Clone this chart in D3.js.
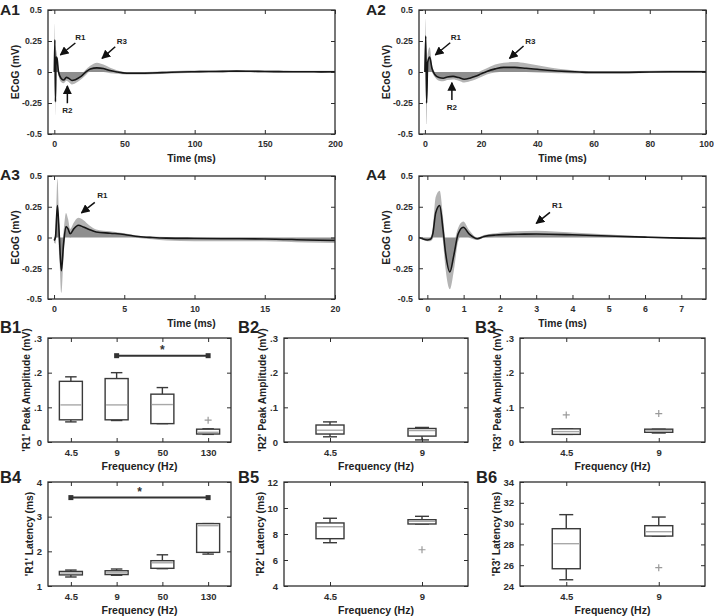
<!DOCTYPE html>
<html><head><meta charset="utf-8">
<script src="https://cdn.jsdelivr.net/npm/d3@7"></script>
<style>
body{margin:0;background:#fff}
svg{font-family:"Liberation Sans",Arial,sans-serif;font-weight:bold}
</style></head><body>
<svg id="fig" width="714" height="616"></svg>
<script>
// ---------- A panels: ECoG traces (time ms, mean, upper, lower in mV) ----------
const a1Time  = [0, 0.4, 0.8, 1.3, 1.9, 3, 4.8, 6.7, 8.6, 10.2, 12.6, 15, 18.5, 22, 25.6, 30.4, 35, 39.8, 44.6, 51.7, 60, 70, 80, 90, 100, 110, 120, 130, 140, 150, 160, 170, 180, 190, 200];
const a1Mean  = [0, 0.26, -0.24, 0.12, 0.11, 0.0, -0.05, -0.065, -0.043, -0.05, -0.068, -0.062, -0.04, -0.005, 0.025, 0.033, 0.028, 0.012, 0.0, -0.01, -0.01, -0.008, -0.004, 0, 0.002, 0.004, 0.005, 0.007, 0.006, 0.004, 0.003, 0.002, 0.002, 0.001, 0.002];
const a1Upper = [0, 0.39, -0.12, 0.18, 0.14, 0.02, -0.02, -0.035, -0.02, -0.02, -0.04, -0.035, -0.02, 0.015, 0.05, 0.075, 0.06, 0.035, 0.015, 0.0, 0.0, 0.002, 0.006, 0.01, 0.012, 0.013, 0.014, 0.016, 0.015, 0.013, 0.012, 0.011, 0.011, 0.01, 0.011];
const a1Lower = [0, 0.15, -0.35, 0.06, 0.07, -0.03, -0.08, -0.09, -0.07, -0.08, -0.1, -0.09, -0.065, -0.03, 0.005, 0.005, 0.0, -0.01, -0.015, -0.02, -0.02, -0.018, -0.014, -0.01, -0.008, -0.005, -0.004, -0.002, -0.003, -0.005, -0.006, -0.007, -0.007, -0.008, -0.007];

const a2Time  = [0, 0.3, 0.6, 1.0, 1.7, 2.5, 3.5, 5, 6.5, 8, 10, 12, 14, 16, 18, 20, 22, 25, 28, 32, 36, 40, 45, 50, 55, 60, 70, 80, 90, 100];
const a2Mean  = [0, 0.29, -0.25, 0.08, 0.12, 0.03, -0.02, -0.045, -0.05, -0.04, -0.035, -0.045, -0.058, -0.05, -0.035, -0.015, 0.005, 0.025, 0.037, 0.037, 0.03, 0.022, 0.012, 0.005, 0.0, -0.003, -0.003, 0, 0.002, 0.002];
const a2Upper = [0, 0.43, -0.1, 0.15, 0.2, 0.06, 0.0, -0.025, -0.03, -0.02, -0.015, -0.025, -0.035, -0.03, -0.015, 0.01, 0.03, 0.06, 0.075, 0.08, 0.07, 0.055, 0.035, 0.02, 0.01, 0.006, 0.006, 0.01, 0.012, 0.01];
const a2Lower = [0, 0.15, -0.42, 0.01, 0.05, 0.0, -0.04, -0.07, -0.075, -0.065, -0.06, -0.07, -0.085, -0.075, -0.06, -0.04, -0.02, -0.005, 0.005, 0.005, 0.0, -0.005, -0.008, -0.01, -0.012, -0.012, -0.012, -0.008, -0.008, -0.006];

const a3Time  = [0, 0.1, 0.24, 0.38, 0.52, 0.68, 0.85, 1.0, 1.15, 1.4, 1.73, 2.1, 2.5, 3, 4, 5, 6, 7, 8, 10, 12, 15, 18, 20];
const a3Mean  = [-0.025, 0.0, 0.26, 0.0, -0.27, -0.05, 0.09, 0.07, 0.03, 0.07, 0.1, 0.085, 0.065, 0.045, 0.035, 0.025, 0.008, 0.0, -0.005, -0.008, -0.01, -0.012, -0.02, -0.025];
const a3Upper = [-0.01, 0.05, 0.48, 0.1, -0.12, 0.05, 0.2, 0.15, 0.07, 0.12, 0.16, 0.14, 0.1, 0.065, 0.05, 0.035, 0.015, 0.008, 0.005, 0.003, 0.0, -0.002, -0.01, -0.01];
const a3Lower = [-0.04, -0.05, 0.1, -0.15, -0.45, -0.15, 0.02, 0.01, 0.0, 0.02, 0.05, 0.04, 0.035, 0.025, 0.02, 0.012, -0.005, -0.015, -0.025, -0.03, -0.03, -0.03, -0.04, -0.045];

const a4Time  = [-0.23, 0, 0.08, 0.15, 0.23, 0.34, 0.43, 0.5, 0.62, 0.73, 0.85, 0.99, 1.15, 1.38, 1.56, 1.88, 2.5, 3, 4, 5, 6, 7, 7.68];
const a4Mean  = [0, -0.02, -0.015, 0.03, 0.2, 0.26, 0.07, -0.12, -0.28, -0.145, 0.03, 0.083, 0.03, -0.01, 0.008, 0.02, 0.027, 0.028, 0.022, 0.012, 0.003, -0.005, -0.008];
const a4Upper = [0, -0.01, 0.0, 0.08, 0.33, 0.38, 0.17, -0.03, -0.15, -0.05, 0.08, 0.13, 0.06, 0.0, 0.02, 0.035, 0.05, 0.055, 0.04, 0.025, 0.01, 0.0, -0.003];
const a4Lower = [0, -0.03, -0.03, -0.01, 0.08, 0.14, -0.03, -0.25, -0.42, -0.27, -0.03, 0.035, 0.0, -0.02, -0.003, 0.005, 0.008, 0.01, 0.008, 0.003, -0.003, -0.01, -0.013];

const ecogTicks = [-0.5, -0.25, 0, 0.25, 0.5];
const ecogTickLabels = ["-0.5", "-0.25", "0", "0.25", "0.5"];
const a1XTicks = [0, 50, 100, 150, 200];
const a2XTicks = [0, 20, 40, 60, 80, 100];
const a3XTicks = [0, 5, 10, 15, 20];
const a4XTicks = [0, 1, 2, 3, 4, 5, 6, 7];

// annotations: [label, labelT, labelV, tailT, tailV, headT, headV]
const a1Notes = [["R1", 18.5, 0.277, 15, 0.234, 4.3, 0.137], ["R3", 48.2, 0.252, 43.4, 0.204, 34, 0.11], ["R2", 9.3, -0.31, 9.3, -0.252, 9.3, -0.113]];
const a2Notes = [["R1", 11, 0.28, 9, 0.236, 3.7, 0.137], ["R3", 37.5, 0.252, 35.1, 0.21, 30.1, 0.11], ["R2", 9.6, -0.285, 9.6, -0.226, 9.6, -0.086]];
const a3Notes = [["R1", 3.44, 0.34, 2.9, 0.285, 1.95, 0.2]];
const a4Notes = [["R1", 3.58, 0.26, 3.38, 0.204, 3.0, 0.115]];

// ---------- B panels: box plots ----------
const b12Freq = ["4.5", "9", "50", "130"];
const bFreq2 = ["4.5", "9"];
const ampTicks = [0, 0.1, 0.2, 0.3];
const ampTickLabels = ["0", ".1", ".2", ".3"];

const b1Low  = [0.058, 0.062, 0.053, 0.022];
const b1Q1   = [0.064, 0.064, 0.053, 0.023];
const b1Med  = [0.107, 0.107, 0.108, 0.028];
const b1Q3   = [0.175, 0.183, 0.138, 0.037];
const b1High = [0.188, 0.200, 0.157, 0.038];
const b1Out  = [[], [], [], [0.063]];

const b2Low  = [0.015, 0.006];
const b2Q1   = [0.023, 0.017];
const b2Med  = [0.034, 0.033];
const b2Q3   = [0.049, 0.039];
const b2High = [0.058, 0.042];
const b2Out  = [[], []];

const b3Low  = [0.022, 0.026];
const b3Q1   = [0.022, 0.028];
const b3Med  = [0.030, 0.032];
const b3Q3   = [0.038, 0.037];
const b3High = [0.038, 0.037];
const b3Out  = [[0.078], [0.082]];

const b4Low  = [1.26, 1.31, 1.50, 1.92];
const b4Q1   = [1.32, 1.33, 1.51, 1.97];
const b4Med  = [1.375, 1.38, 1.67, 2.74];
const b4Q3   = [1.42, 1.44, 1.73, 2.80];
const b4High = [1.46, 1.49, 1.90, 2.80];
const b4Out  = [[], [], [], []];
const b4Ticks = [1, 2, 3, 4];

const b5Low  = [7.33, 8.77];
const b5Q1   = [7.64, 8.77];
const b5Med  = [8.56, 8.98];
const b5Q3   = [8.85, 9.10];
const b5High = [9.21, 9.36];
const b5Out  = [[], [6.79]];
const b5Ticks = [4, 6, 8, 10, 12];

const b6Low  = [24.6, 28.8];
const b6Q1   = [25.66, 28.8];
const b6Med  = [28.07, 29.22];
const b6Q3   = [29.51, 29.8];
const b6High = [30.86, 30.63];
const b6Out  = [[], [25.76]];
const b6Ticks = [24, 26, 28, 30, 32, 34];

const b1Sig = ["9", "130", 0.249];
const b4Sig = ["4.5", "130", 3.55];

// ---------- drawing ----------
const svg = d3.select("#fig");
const INK = "#2e2e2e";
const defs = svg.append("defs");
defs.append("marker").attr("id", "arr").attr("viewBox", "0 0 10 10").attr("refX", 9).attr("refY", 5)
  .attr("markerWidth", 6).attr("markerHeight", 6).attr("orient", "auto-start-reverse")
  .append("path").attr("d", "M0,0 L10,5 L0,10 z").attr("fill", "#111");

let clipN = 0;
function frame(g, x, y, xTicks, yTicks, yFmt, xFmt) {
  const L = x.range()[0], R = x.range()[x.range().length - 1];
  const B = y.range()[0], T = y.range()[1];
  const style = sel => {
    sel.select(".domain").remove();
    sel.selectAll(".tick line").attr("stroke", INK).attr("stroke-width", 1);
  };
  const bottomAx = d3.axisBottom(x).tickValues(xTicks).tickSize(-4).tickPadding(7);
  if (xFmt) bottomAx.tickFormat(xFmt);
  g.append("g").attr("transform", `translate(0,${B})`).call(bottomAx).call(style)
    .selectAll("text").attr("fill", INK).style("font-size", g.attr("data-tfs") + "px").style("font-weight", "bold").style("font-family", "Liberation Sans, Arial, sans-serif");
  g.append("g").attr("transform", `translate(0,${T})`).call(d3.axisTop(x).tickValues(xTicks).tickSize(-4).tickFormat("")).call(style);
  g.append("g").attr("transform", `translate(${L},0)`).call(d3.axisLeft(y).tickValues(yTicks).tickSize(-4).tickPadding(6).tickFormat(yFmt)).call(style)
    .selectAll("text").attr("fill", INK).style("font-size", g.attr("data-tfs") + "px").style("font-weight", "bold").style("font-family", "Liberation Sans, Arial, sans-serif");
  g.append("g").attr("transform", `translate(${R},0)`).call(d3.axisRight(y).tickValues(yTicks).tickSize(-4).tickFormat("")).call(style);
  g.append("rect").attr("x", L).attr("y", T).attr("width", R - L).attr("height", B - T)
    .attr("fill", "none").attr("stroke", INK).attr("stroke-width", 1.3);
}

function tracePanel(c) {
  const x = d3.scaleLinear().domain(c.xDomain).range([c.left, c.right]);
  const y = d3.scaleLinear().domain([-0.5, 0.5]).range([c.bottom, c.top]);
  const g = svg.append("g").attr("data-tfs", 8.8);
  const id = "clip" + (clipN++);
  defs.append("clipPath").attr("id", id).append("rect")
    .attr("x", c.left).attr("y", c.top).attr("width", c.right - c.left).attr("height", c.bottom - c.top);
  const pg = g.append("g").attr("clip-path", `url(#${id})`);
  const idx = d3.range(c.time.length);
  const cv = d3.curveMonotoneX;
  pg.append("path").attr("d", d3.area().curve(cv).x(i => x(c.time[i])).y0(i => y(c.lower[i])).y1(i => y(c.upper[i]))(idx))
    .attr("fill", "#b4b4b4");
  pg.append("path").attr("d", d3.area().curve(cv).x(i => x(c.time[i])).y0(y(0)).y1(i => y(c.mean[i]))(idx))
    .attr("fill", "#8e8e8e");
  pg.append("path").attr("d", d3.line().curve(cv).x(i => x(c.time[i])).y(i => y(c.mean[i]))(idx))
    .attr("fill", "none").attr("stroke", "#161616").attr("stroke-width", 1.6);
  frame(g, x, y, c.xTicks, ecogTicks, (d, i) => ecogTickLabels[i]);
  // annotations
  c.notes.forEach(n => {
    g.append("line").attr("x1", x(n[3])).attr("y1", y(n[4])).attr("x2", x(n[5])).attr("y2", y(n[6]))
      .attr("stroke", "#111").attr("stroke-width", 1.5).attr("marker-end", "url(#arr)");
    g.append("text").attr("x", x(n[1])).attr("y", y(n[2])).attr("dy", "0.35em").attr("text-anchor", "middle")
      .attr("fill", "#222").style("font-size", "8px").text(n[0]);
  });
  g.append("text").attr("x", (c.left + c.right) / 2).attr("y", c.bottom + 28).attr("text-anchor", "middle")
    .attr("fill", "#222").style("font-size", "10.3px").text("Time (ms)");
  g.append("text").attr("transform", `translate(${c.ylabX},${(c.top + c.bottom) / 2}) rotate(-90)`).attr("text-anchor", "middle")
    .attr("fill", "#222").style("font-size", "10.3px").text("ECoG (mV)");
  g.append("text").attr("x", c.tx).attr("y", c.ty).attr("fill", "#222").style("font-size", "15.5px").text(c.title);
}

function boxPanel(c) {
  const x = d3.scalePoint().domain(c.cats).range([c.left, c.right]).padding(0.5);
  const y = d3.scaleLinear().domain(c.yDomain).range([c.bottom, c.top]);
  const g = svg.append("g").attr("data-tfs", 9.5);
  const bw = c.boxW, cw = c.boxW / 2;
  const boxC = "#3a3a3a";
  c.cats.forEach((cat, i) => {
    const cx = x(cat);
    g.append("line").attr("x1", cx).attr("x2", cx).attr("y1", y(c.q3[i])).attr("y2", y(c.high[i])).attr("stroke", boxC).attr("stroke-width", 1.4);
    g.append("line").attr("x1", cx).attr("x2", cx).attr("y1", y(c.q1[i])).attr("y2", y(c.low[i])).attr("stroke", boxC).attr("stroke-width", 1.4);
    g.append("line").attr("x1", cx - cw / 2).attr("x2", cx + cw / 2).attr("y1", y(c.high[i])).attr("y2", y(c.high[i])).attr("stroke", boxC).attr("stroke-width", 1.4);
    g.append("line").attr("x1", cx - cw / 2).attr("x2", cx + cw / 2).attr("y1", y(c.low[i])).attr("y2", y(c.low[i])).attr("stroke", boxC).attr("stroke-width", 1.4);
    g.append("rect").attr("x", cx - bw / 2).attr("y", y(c.q3[i])).attr("width", bw).attr("height", Math.max(0.5, y(c.q1[i]) - y(c.q3[i])))
      .attr("fill", "#fff").attr("stroke", boxC).attr("stroke-width", 1.4);
    g.append("line").attr("x1", cx - bw / 2 + 1).attr("x2", cx + bw / 2 - 1).attr("y1", y(c.med[i])).attr("y2", y(c.med[i]))
      .attr("stroke", "#a8a8a8").attr("stroke-width", 1.4);
    c.out[i].forEach(v => {
      g.append("path").attr("d", `M${cx - 3.5},${y(v)}h7M${cx},${y(v) - 3.5}v7`).attr("stroke", "#9a9a9a").attr("stroke-width", 1.2);
    });
  });
  if (c.sig) {
    const x1 = x(c.sig[0]), x2 = x(c.sig[1]), yy = y(c.sig[2]);
    g.append("line").attr("x1", x1).attr("x2", x2).attr("y1", yy).attr("y2", yy).attr("stroke", "#333").attr("stroke-width", 2);
    [x1, x2].forEach(xx => g.append("rect").attr("x", xx - 2.5).attr("y", yy - 2.5).attr("width", 5).attr("height", 5).attr("fill", "#333"));
    g.append("text").attr("x", (x1 + x2) / 2).attr("y", yy - 2).attr("text-anchor", "middle").attr("fill", "#333").style("font-size", "12px").text("*");
  }
  frame(g, x, y, c.cats, c.yTicks, c.yFmt);
  g.append("text").attr("x", (c.left + c.right) / 2).attr("y", c.bottom + 28).attr("text-anchor", "middle")
    .attr("fill", "#222").style("font-size", "10.5px").text("Frequency (Hz)");
  g.append("text").attr("transform", `translate(${c.ylabX},${(c.top + c.bottom) / 2}) rotate(-90)`).attr("text-anchor", "middle")
    .attr("fill", "#222").style("font-size", "10.3px").text(c.ylabel);
  g.append("text").attr("x", c.tx).attr("y", c.ty).attr("fill", "#222").style("font-size", "16.5px").text(c.title);
}

tracePanel({title: "A1", tx: 0, ty: 15, left: 48, right: 335, top: 10, bottom: 134, xDomain: [-4.5, 200], xTicks: a1XTicks,
  time: a1Time, mean: a1Mean, upper: a1Upper, lower: a1Lower, notes: a1Notes, ylabX: 19});
tracePanel({title: "A2", tx: 366, ty: 15, left: 419, right: 706, top: 10, bottom: 134, xDomain: [-2.1, 100], xTicks: a2XTicks,
  time: a2Time, mean: a2Mean, upper: a2Upper, lower: a2Lower, notes: a2Notes, ylabX: 390});
tracePanel({title: "A3", tx: 0, ty: 180, left: 48, right: 335, top: 176, bottom: 299, xDomain: [-0.43, 20], xTicks: a3XTicks,
  time: a3Time, mean: a3Mean, upper: a3Upper, lower: a3Lower, notes: a3Notes, ylabX: 19});
tracePanel({title: "A4", tx: 366, ty: 180, left: 419, right: 706, top: 176, bottom: 299, xDomain: [-0.23, 7.68], xTicks: a4XTicks,
  time: a4Time, mean: a4Mean, upper: a4Upper, lower: a4Lower, notes: a4Notes, ylabX: 390});

const fmtAmp = (d, i) => ampTickLabels[i];
boxPanel({title: "B1", tx: 0, ty: 333, left: 48, right: 231, top: 338, bottom: 442, cats: b12Freq, yDomain: [0, 0.3], yTicks: ampTicks, yFmt: fmtAmp,
  low: b1Low, q1: b1Q1, med: b1Med, q3: b1Q3, high: b1High, out: b1Out, boxW: 23, ylabel: "'R1' Peak Amplitude (mV)", ylabX: 30, sig: b1Sig});
boxPanel({title: "B2", tx: 238, ty: 333, left: 284, right: 468, top: 338, bottom: 442, cats: bFreq2, yDomain: [0, 0.3], yTicks: ampTicks, yFmt: fmtAmp,
  low: b2Low, q1: b2Q1, med: b2Med, q3: b2Q3, high: b2High, out: b2Out, boxW: 28, ylabel: "'R2' Peak Amplitude (mV)", ylabX: 266});
boxPanel({title: "B3", tx: 475, ty: 333, left: 520, right: 705, top: 338, bottom: 442, cats: bFreq2, yDomain: [0, 0.3], yTicks: ampTicks, yFmt: fmtAmp,
  low: b3Low, q1: b3Q1, med: b3Med, q3: b3Q3, high: b3High, out: b3Out, boxW: 28, ylabel: "'R3' Peak Amplitude (mV)", ylabX: 501});
boxPanel({title: "B4", tx: 0, ty: 483, left: 48, right: 231, top: 482, bottom: 586, cats: b12Freq, yDomain: [1, 4], yTicks: b4Ticks, yFmt: d3.format("d"),
  low: b4Low, q1: b4Q1, med: b4Med, q3: b4Q3, high: b4High, out: b4Out, boxW: 23, ylabel: "'R1' Latency (ms)", ylabX: 33, sig: b4Sig});
boxPanel({title: "B5", tx: 238, ty: 483, left: 284, right: 468, top: 482, bottom: 586, cats: bFreq2, yDomain: [4, 12], yTicks: b5Ticks, yFmt: d3.format("d"),
  low: b5Low, q1: b5Q1, med: b5Med, q3: b5Q3, high: b5High, out: b5Out, boxW: 28, ylabel: "'R2' Latency (ms)", ylabX: 264});
boxPanel({title: "B6", tx: 476, ty: 483, left: 520, right: 705, top: 482, bottom: 586, cats: bFreq2, yDomain: [24, 34], yTicks: b6Ticks, yFmt: d3.format("d"),
  low: b6Low, q1: b6Q1, med: b6Med, q3: b6Q3, high: b6High, out: b6Out, boxW: 28, ylabel: "'R3' Latency (ms)", ylabX: 500});
</script>
</body></html>
